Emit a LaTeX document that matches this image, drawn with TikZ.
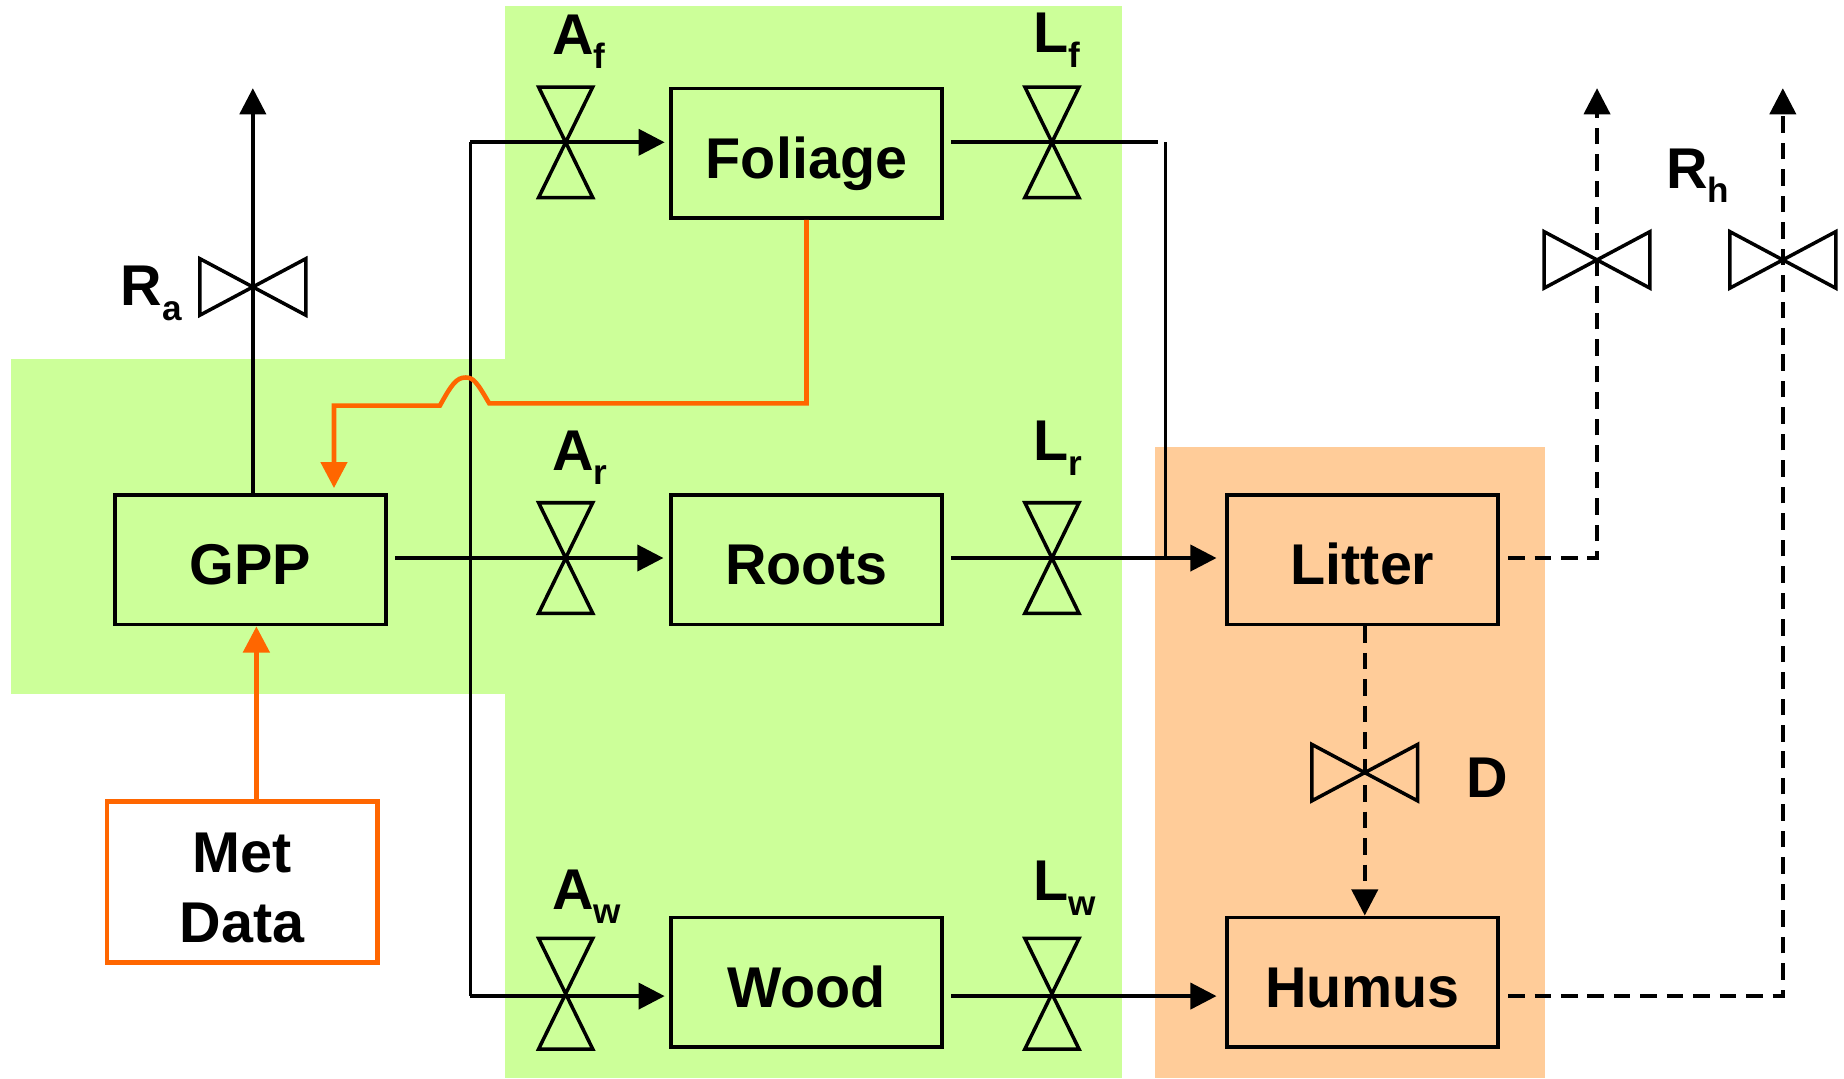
\documentclass[tikz,border=0pt]{standalone}
\usepackage{fontspec}
\setmainfont{Liberation Sans}
\usepackage{tikz}
\usetikzlibrary{arrows.meta}
\definecolor{pool green}{HTML}{CCFF99}
\definecolor{pool orange}{HTML}{FFCC99}
\definecolor{met orange}{HTML}{FF6600}
\newcommand{\fluxlab}[2]{#1\raisebox{-3.5pt}{\fontsize{8.5}{10}\selectfont #2}}
\tikzset{
    pool/.style={draw,line width=0.95pt,minimum width=2.3cm,minimum height=1.1cm,inner sep=0pt,text height=12pt,text depth=0pt,font=\fontsize{13.9}{17}\selectfont\bfseries},
    flux/.style={anchor=base west,inner sep=0pt,font=\fontsize{13.9}{17}\selectfont\bfseries},
    flow/.style={line width=0.9pt},
    driver/.style={line width=1.1pt,color=met orange},
    vvalve/.pic={\draw[line width=0.85pt,miter limit=2] (-23,-47) -- (23,-47) -- (-23,47) -- (23,47) -- cycle;},
    hvalve/.pic={\draw[line width=0.85pt,miter limit=2] (-45,-24) -- (-45,24) -- (45,-24) -- (45,24) -- cycle;}
}

\begin{document}
\begin{tikzpicture}[x=0.01cm,y=-0.01cm,>={Triangle[length=6.3pt,width=6.3pt]},node distance=4.725cm]
    \useasboundingbox (0,0) rectangle (1568,916.7);
    \fill[pool green] (9,305) rectangle (429,590);
    \fill[pool green] (429,5) rectangle (954,916.7);
    \fill[pool orange] (982,380) rectangle (1314,916.7);

    \node[pool]  (GPP) at (213,476) {GPP};
    \node[pool]  (Roots) [right of = GPP] {Roots};
    \node[pool]  (Foliage) [above of = Roots,node distance=3.455cm] {Foliage};
    \node[pool]  (Wood) [below of = Roots,node distance=3.59cm] {Wood};
    \node[pool]  (Litter) [right of = Roots] {Litter};
    \node[pool]  (Humus) [below of = Litter,node distance=3.59cm] {Humus};
    \node[pool,draw=met orange,line width=1.1pt,minimum height=1.37cm,align=center,text height=,text depth=] (Met) at (206,750) {\rule{0pt}{12.3pt}Met\\Data};

    \path (481,121) coordinate (vAf) pic {vvalve};
    \path (481,474.5) coordinate (vAr) pic {vvalve};
    \path (481,845) coordinate (vAw) pic {vvalve};
    \path (894.5,121) coordinate (vLf) pic {vvalve};
    \path (894.5,474.5) coordinate (vLr) pic {vvalve};
    \path (894.5,845) coordinate (vLw) pic {vvalve};
    \path (215,244) coordinate (vRa) pic {hvalve};
    \path (1358,221) coordinate (vRhl) pic {hvalve};
    \path (1516,221) coordinate (vRhh) pic {hvalve};
    \path (1160.5,657) coordinate (vD) pic {hvalve};

    \node[flux] (Af) at (469,46) {\fluxlab{A}{f}};
    \node[flux] (Ar) at (469,400) {\fluxlab{A}{r}};
    \node[flux] (Aw) at (469,773) {\fluxlab{A}{w}};
    \node[flux] (Lf) at (878,45) {\fluxlab{L}{f}};
    \node[flux] (Lr) at (878,392) {\fluxlab{L}{r}};
    \node[flux] (Lw) at (878,766) {\fluxlab{L}{w}};
    \node[flux] (Ra) at (102,260) {\fluxlab{R}{a}};
    \node[flux] (Rh) at (1416,160) {\fluxlab{R}{h}};
    \node[flux] (D) at (1246,678) {D};

    \coordinate (raTop) at (215,75);
    \coordinate (rhlTop) at (1358,75);
    \coordinate (rhhTop) at (1516,75);
    \coordinate (trunkT) at (400,121);
    \coordinate (trunkB) at (400,847);
    \coordinate (lfEnd) at (985,121);
    \coordinate (lfDown) at (991,121);
    \coordinate (humpR) at (416,343);
    \coordinate (humpT) at (396,321);
    \coordinate (humpL) at (374,345);
    \coordinate (gppIn) at (284,421);
    \coordinate (metOut) at (218,681);

    \draw[flow,->] (vRa |- GPP.north) -- (vRa) -- (raTop);
    \draw[flow] (trunkT) -- (trunkB);
    \draw[flow,->,shorten >=1.1pt] (trunkT) -- (vAf) -- (vAf -| Foliage.west);
    \draw[flow,->,shorten >=1.4pt,shorten <=1.8pt] (GPP.east |- vAr) -- (vAr) -- (vAr -| Roots.west);
    \draw[flow,->,shorten >=1.1pt] (trunkB) -- (trunkB -| vAw) -- (trunkB -| Wood.west);
    \draw[flow,shorten <=1.8pt] (Foliage.east |- vLf) -- (vLf) -- (lfEnd);
    \draw[line width=0.7pt] (lfDown) -- (lfDown |- vLr);
    \draw[flow,->,shorten >=2.1pt,shorten <=1.8pt] (Roots.east |- vLr) -- (vLr) -- (vLr -| Litter.west);
    \draw[flow,->,shorten >=2.1pt,shorten <=1.8pt] (Wood.east |- trunkB) -- (trunkB -| vLw) -- (trunkB -| Humus.west);

    \draw[flow,dash pattern=on 4pt off 2.4pt,->,shorten <=2pt] (Litter.east |- vLr) -- (vLr -| vRhl) -- (vRhl) -- (rhlTop);
    \draw[flow,dash pattern=on 4pt off 2.4pt,->,shorten <=2pt] (Humus.east |- trunkB) -- (trunkB -| vRhh) -- (vRhh) -- (rhhTop);
    \draw[flow,dash pattern=on 4pt off 2.4pt,->] (vD |- Litter.south) -- (vD) -- (vD |- Humus.north);

    \draw[driver,->,shorten >=1.7pt] (Foliage.south) -- (Foliage.south |- humpR) -- (humpR) .. controls (406,326) and (403,321) .. (humpT) .. controls (388,321) and (384,327) .. (humpL) -- (humpL -| gppIn) -- (gppIn);
    \draw[driver,->] (metOut) -- (metOut |- GPP.south);
\end{tikzpicture}
\end{document}
